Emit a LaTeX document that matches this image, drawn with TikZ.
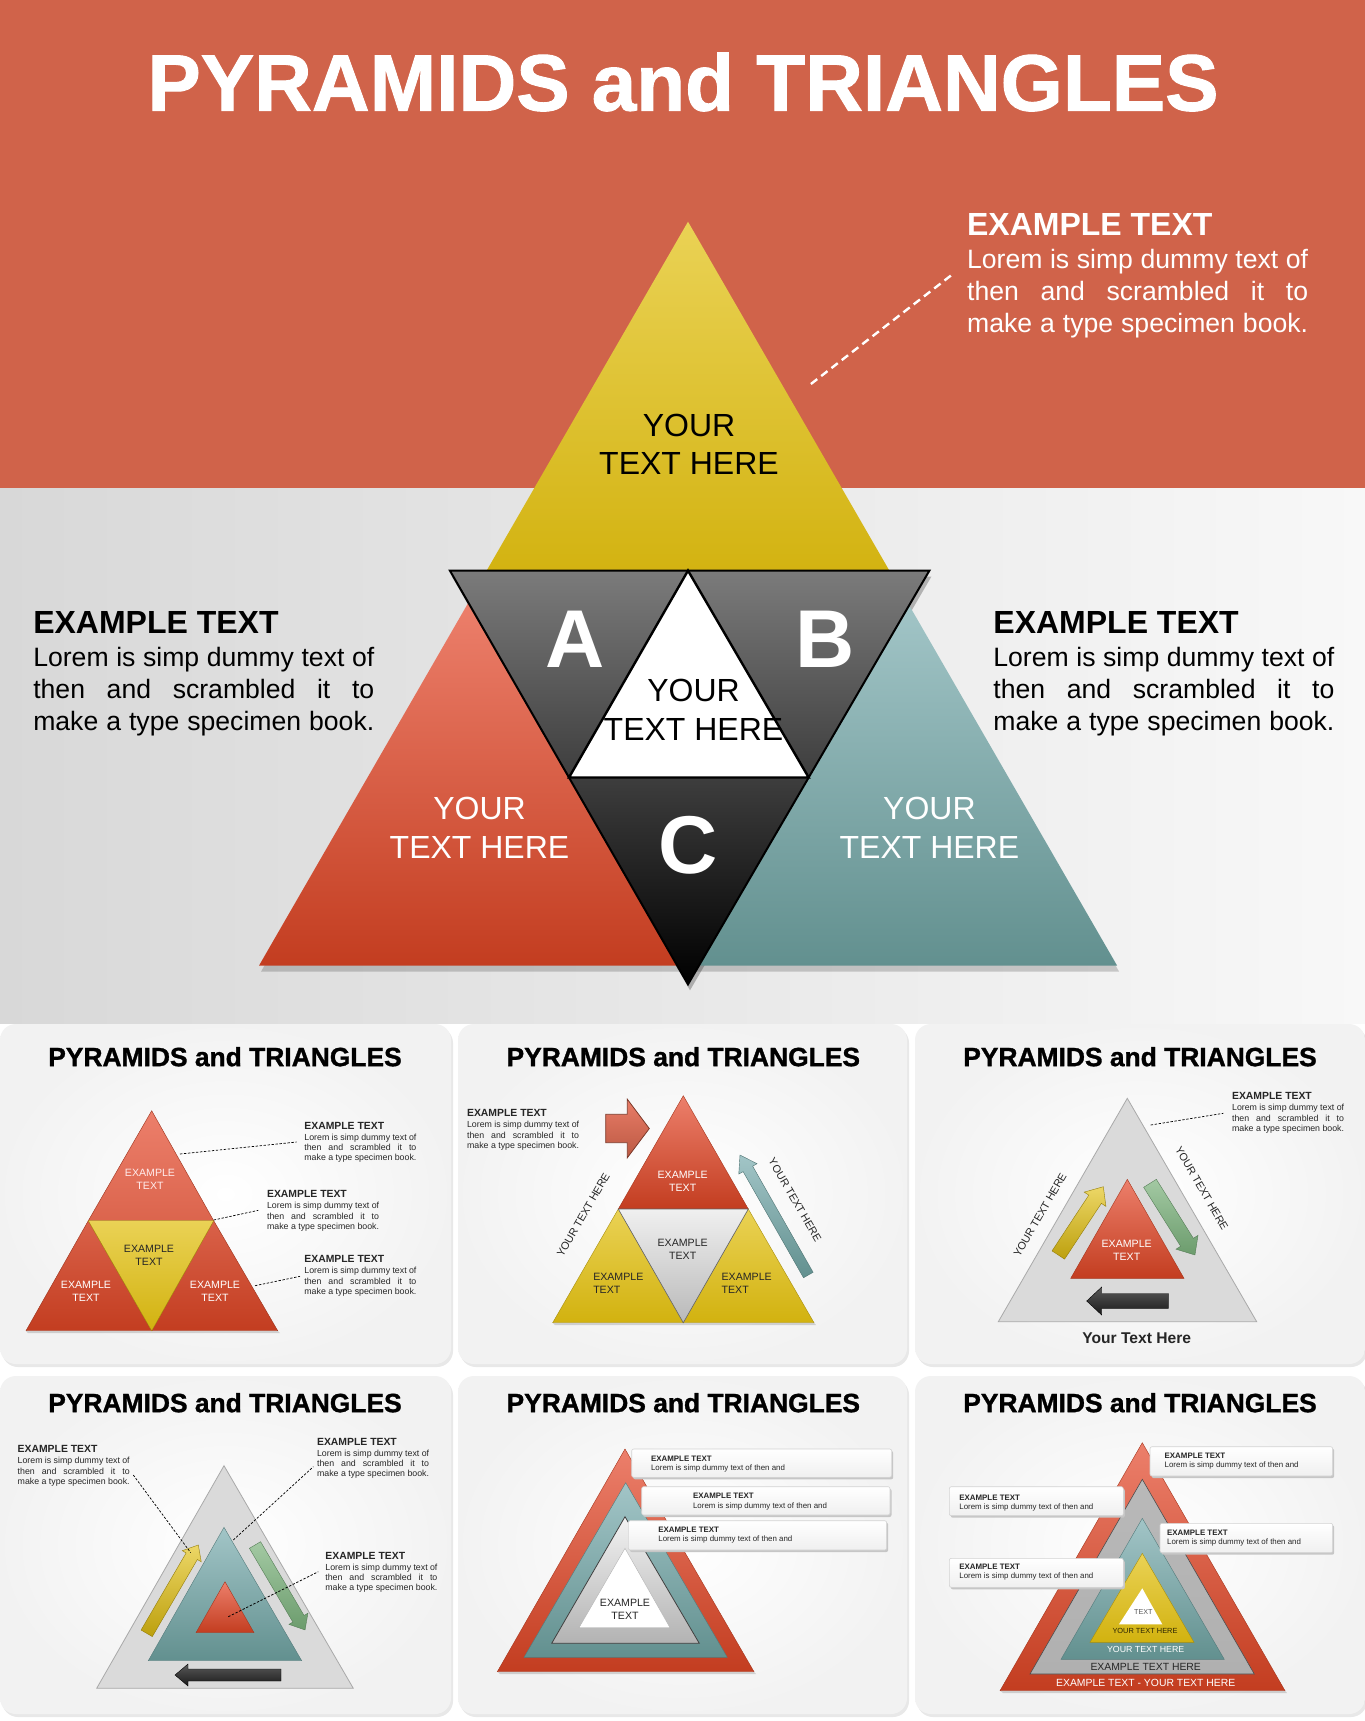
\documentclass[tikz,border=0pt]{standalone}
\usepackage{fontspec}
\setmainfont{Liberation Sans}
\newfontfamily\heavyfont[FakeBold=1.2]{Liberation Sans}
\usetikzlibrary{calc}
\definecolor{band}{HTML}{D0634A}
\definecolor{bgL}{HTML}{D8D8D8}
\definecolor{bgR}{HTML}{F8F8F8}
\definecolor{yelT}{HTML}{EAD255}
\definecolor{yelB}{HTML}{D2B20F}
\definecolor{redT}{HTML}{EC7F6B}
\definecolor{redB}{HTML}{C33D20}
\definecolor{tealT}{HTML}{A2C5C7}
\definecolor{tealB}{HTML}{62908F}
\definecolor{darkT}{HTML}{7B7B7B}
\definecolor{darkB}{HTML}{000000}
\definecolor{grayF}{HTML}{DADADA}
\definecolor{grayE}{HTML}{A9A9A9}
\definecolor{greenT}{HTML}{A3C9A3}
\definecolor{greenB}{HTML}{6C9C6D}
\definecolor{txtd}{HTML}{262626}
\tikzset{
  mlab/.style={align=center, inner sep=0, font=\fontsize{16}{19.2}\selectfont},
  abc/.style={inner sep=0, text=white, font=\fontsize{41}{41}\selectfont\bfseries},
  slab/.style={align=center, inner sep=0, font=\fontsize{5.3}{6.4}\selectfont},
  ptitle/.style={inner sep=0, text=black, font=\heavyfont\fontsize{13.2}{13.2}\selectfont\bfseries},
  rotlab/.style={inner sep=0, text=txtd, font=\fontsize{5.4}{5.4}\selectfont},
  leader/.style={dash pattern=on 1.2pt off 0.8pt, line width=0.35pt, black},
  redtri/.style={top color=redT, bottom color=redB, draw=redB!85!black, line width=0.2pt},
  yeltri/.style={top color=yelT, bottom color=yelB, draw=yelB!80!black, line width=0.2pt},
  tealtri/.style={top color=tealT, bottom color=tealB, draw=tealB!85!black, line width=0.2pt},
  graytri/.style={top color=grayF, bottom color=grayF, draw=grayE, line width=0.4pt},
  yelarrow/.style={top color=yelT!90!white, bottom color=yelB!90!black, draw=yelB!70!black, line width=0.2pt},
  greenarrow/.style={top color=greenT, bottom color=greenB, draw=greenB!80!black, line width=0.2pt},
  darkarrow/.style={top color=black!65, bottom color=black!90, draw=black, line width=0.2pt},
  tealarrow/.style={top color=tealT, bottom color=tealB, draw=tealB!80!black, line width=0.2pt},
  redarrow/.style={top color=redT!90!band, bottom color=band!90!black, draw=band!60!black, line width=0.4pt}
}
% text block (one node): x, heading baseline, name, colour, head size, body size, width, gap1, gap2 (pt)
\newcommand\infoblk[9]{%
  \node[anchor=base west, inner sep=0, text=#4] (#3) at (#1,#2) {\vtop{\baselineskip=#9\lineskiplimit=-100pt\lineskip=0pt
    \hbox{\fontsize{#5}{#5}\selectfont\bfseries EXAMPLE TEXT}\kern\dimexpr#8-#9\relax
    \hbox{\fontsize{#6}{#6}\selectfont\makebox[#7][s]{Lorem is simp dummy text of}}
    \hbox{\fontsize{#6}{#6}\selectfont\makebox[#7][s]{then and scrambled it to}}
    \hbox{\fontsize{#6}{#6}\selectfont\makebox[#7][s]{make a type specimen book.}}}};}
\newcommand\smallblk[3]{\infoblk{#1}{#2}{#3}{txtd}{5.2}{4.4}{56pt}{5.5pt}{5.2pt}}
% block arrow: x, y, length, angle, shaft half, head half, head length, style
\newcommand\barrow[8]{%
  \begin{scope}[shift={(#1,#2)}, rotate=#4]
    \shadedraw[#8] (0,-#5) -- (#3-#7,-#5) -- (#3-#7,-#6) -- (#3,0) -- (#3-#7,#6) -- (#3-#7,#5) -- (0,#5) -- cycle;
  \end{scope}}
\newcommand\panelbg[4]{%
  \fill[gray!18, rounded corners=8] (#1+2,#2+3) rectangle (#3+2,#4+3);
  \shade[rounded corners=8, inner color=white, outer color=gray!10] (#1,#2) rectangle (#3,#4);}
\newcommand\lbox[7]{%
  \fill[gray!45, rounded corners=1] (#1+1.5,#2+2) rectangle (#3+1.5,#4+2);
  \shadedraw[top color=white, bottom color=gray!12, draw=gray!35, line width=0.3pt, rounded corners=1] (#1,#2) rectangle (#3,#4);
  \node[anchor=base west, inner sep=0, text=txtd] (#7) at (#5,#6) {\vtop{\baselineskip=4.7pt\lineskiplimit=-100pt\lineskip=0pt
    \hbox{\fontsize{3.95}{3.95}\selectfont\bfseries EXAMPLE TEXT}
    \hbox{\fontsize{3.95}{3.95}\selectfont Lorem is simp dummy text of then and}}};}

\begin{document}
\begin{tikzpicture}[x=0.5pt,y=-0.5pt]
\useasboundingbox (0,0) rectangle (1365,1721);
\fill[white] (0,0) rectangle (1365,1721);
% ---------- top section ----------
\fill[band] (0,0) rectangle (1365,488);
\shade[left color=bgL, right color=bgR] (0,488) rectangle (1365,1023);
\node[inner sep=0, text=white, font=\heavyfont\fontsize{40}{40}\selectfont\bfseries] (title) at (683,82) {PYRAMIDS and TRIANGLES};

% shadows
\begin{scope}[shift={(2,6)}]
  \fill[black, opacity=0.18] (259,965.6) -- (468.5,602.4) -- (907.5,602.4) -- (1117.1,965.6) -- cycle;
  \fill[black, opacity=0.25] (449.9,570.6) -- (929.4,570.6) -- (688,984.3) -- cycle;
\end{scope}
% yellow
\shade[top color=yelT, bottom color=yelB] (688,221.7) -- (480.3,581.6) -- (895.7,581.6) -- cycle;
% red and teal
\shade[top color=redT, bottom color=redB] (259,965.6) -- (468.5,602.4) -- (488.3,602.4) -- (689.1,965.6) -- cycle;
\shade[top color=tealT, bottom color=tealB] (1117.1,965.6) -- (907.5,602.4) -- (887.7,602.4) -- (686.9,965.6) -- cycle;
% dark inverted triangle
\shadedraw[top color=darkT, bottom color=darkB, draw=black, line width=1pt] (449.9,570.6) -- (929.4,570.6) -- (688,984.3) -- cycle;
\filldraw[fill=white, draw=black, line width=1.2pt] (688,570.6) -- (569,777.5) -- (808.7,777.5) -- cycle;

\node[mlab, text=black] (ty) at (689,444.4) {YOUR\\TEXT HERE};
\node[mlab, text=black] (tw) at (693.5,710) {YOUR\\TEXT HERE};
\node[mlab, text=white] (tr) at (479.5,828) {YOUR\\TEXT HERE};
\node[mlab, text=white] (tt) at (929.4,828) {YOUR\\TEXT HERE};
\node[abc] (la) at (575,639.7) {A};
\node[abc] (lb) at (825.2,639.7) {B};
\node[abc] (lc) at (688,845) {C};

\coordinate (dA) at (810.9,384);
\coordinate (dB) at (952.5,274.3);
\draw[white, line width=1.2pt, dash pattern=on 4pt off 2.5pt] (dA) -- (dB);

\infoblk{966.7}{235.4}{ibtr}{white}{16}{13.3}{170.5pt}{16.5pt}{15.9pt}
\infoblk{32.9}{633.7}{ibl}{black}{16}{13.3}{170.5pt}{16.5pt}{15.9pt}
\infoblk{993}{633.7}{ibr}{black}{16}{13.3}{170.5pt}{16.5pt}{15.9pt}

% ---------- panels ----------
\panelbg{0}{1024}{451}{1364}
\panelbg{458}{1024}{907}{1364}
\panelbg{915}{1024}{1365}{1364}
\panelbg{0}{1376}{451}{1714}
\panelbg{458}{1376}{907}{1714}
\panelbg{915}{1376}{1365}{1714}

\node[ptitle] (p1t) at (225,1056.7) {PYRAMIDS and TRIANGLES};
\node[ptitle] (p2t) at (683.3,1056.7) {PYRAMIDS and TRIANGLES};
\node[ptitle] (p3t) at (1140,1056.7) {PYRAMIDS and TRIANGLES};
\node[ptitle] (p4t) at (225,1402.7) {PYRAMIDS and TRIANGLES};
\node[ptitle] (p5t) at (683.3,1402.7) {PYRAMIDS and TRIANGLES};
\node[ptitle] (p6t) at (1140,1402.7) {PYRAMIDS and TRIANGLES};

% ----- panel 1 -----
\fill[black, opacity=0.15] (28,1333) -- (280,1333) -- (278,1331) -- (26,1331) -- cycle;
\shadedraw[top color=redT, bottom color=redT!60!redB, draw=redB!80!black, line width=0.2pt] (151.7,1110.7) -- (88.3,1220.7) -- (213.7,1220.7) -- cycle;
\shadedraw[top color=redT!55!redB, bottom color=redB, draw=redB!80!black, line width=0.2pt] (88.3,1220.7) -- (26,1330.7) -- (151.7,1330.7) -- cycle;
\shadedraw[top color=redT!55!redB, bottom color=redB, draw=redB!80!black, line width=0.2pt] (213.7,1220.7) -- (151.7,1330.7) -- (277.7,1330.7) -- cycle;
\shadedraw[yeltri] (88.3,1220.7) -- (213.7,1220.7) -- (151.7,1330.7) -- cycle;
\node[slab, text=white!92!red] (p1a) at (150,1179.3) {EXAMPLE\\TEXT};
\node[slab, text=txtd] (p1b) at (149,1255.3) {EXAMPLE\\TEXT};
\node[slab, text=white] (p1c) at (86,1291.7) {EXAMPLE\\TEXT};
\node[slab, text=white] (p1d) at (215,1291.7) {EXAMPLE\\TEXT};
\smallblk{304}{1129}{p1k1}
\smallblk{266.7}{1197.7}{p1k2}
\smallblk{304}{1262.7}{p1k3}
\coordinate (p1s1) at (180,1154); \coordinate (p1e1) at (296.7,1142);
\coordinate (p1s2) at (213.7,1220); \coordinate (p1e2) at (258.3,1210.3);
\coordinate (p1s3) at (255,1285.7); \coordinate (p1e3) at (300,1276.3);
\draw[leader] (p1s1) -- (p1e1);
\draw[leader] (p1s2) -- (p1e2);
\draw[leader] (p1s3) -- (p1e3);

% ----- panel 2 -----
\fill[black, opacity=0.15] (555,1325) -- (816,1325) -- (814,1322.7) -- (552.7,1322.7) -- cycle;
\shadedraw[redtri] (683.3,1095.7) -- (618.3,1209) -- (748.3,1209) -- cycle;
\shadedraw[yeltri] (618.3,1209) -- (552.7,1322.7) -- (683.3,1322.7) -- cycle;
\shadedraw[yeltri] (748.3,1209) -- (683.3,1322.7) -- (814,1322.7) -- cycle;
\shadedraw[top color=gray!12, bottom color=gray!55, draw=black!60, line width=0.3pt] (618.3,1209) -- (748.3,1209) -- (683.3,1322.7) -- cycle;
\node[slab, text=white] (p2a) at (682.7,1181.7) {EXAMPLE\\TEXT};
\node[slab, text=txtd] (p2b) at (682.7,1249.3) {EXAMPLE\\TEXT};
\node[slab, text=txtd, align=left] (p2c) at (618.3,1283.3) {EXAMPLE\\TEXT};
\node[slab, text=txtd, align=left] (p2d) at (746.7,1283.3) {EXAMPLE\\TEXT};
\smallblk{466.7}{1116.7}{p2k1}
\barrow{605.7}{1128.5}{43.6}{0}{14.2}{29.3}{22}{redarrow}
\barrow{808.3}{1275}{138.1}{119.65}{5.5}{10.5}{16}{tealarrow}
\node[rotlab, rotate=60] (p2r1) at (583.3,1215) {YOUR TEXT HERE};
\node[rotlab, rotate=-60] (p2r2) at (795,1200) {YOUR TEXT HERE};

% ----- panel 3 -----
\shadedraw[graytri] (1127.3,1098.3) -- (998.3,1321.7) -- (1256.7,1321.7) -- cycle;
\shadedraw[redtri] (1127.3,1179.3) -- (1070.7,1278.3) -- (1184,1278.3) -- cycle;
\node[slab, text=white] (p3a) at (1126.7,1250) {EXAMPLE\\TEXT};
\barrow{1058.3}{1255}{81.8}{56.6}{7.5}{13}{15}{yelarrow}
\barrow{1150}{1183.3}{84.6}{-57.9}{7.5}{13}{15}{greenarrow}
\barrow{1168.3}{1301}{81.6}{180}{7.5}{14}{15}{darkarrow}
\node[inner sep=0, text=txtd, font=\fontsize{7.8}{7.8}\selectfont\bfseries] (p3y) at (1136.7,1338.3) {Your Text Here};
\node[rotlab, rotate=60] (p3r1) at (1040,1215) {YOUR TEXT HERE};
\node[rotlab, rotate=-60] (p3r2) at (1201.7,1188.3) {YOUR TEXT HERE};
\smallblk{1231.7}{1099.7}{p3k1}
\coordinate (p3s1) at (1150.7,1125); \coordinate (p3e1) at (1223.3,1113.3);
\draw[leader] (p3s1) -- (p3e1);

% ----- panel 4 -----
\shadedraw[graytri] (224,1465.7) -- (96.7,1688.3) -- (353.3,1688.3) -- cycle;
\shadedraw[tealtri] (224,1527.3) -- (148.3,1660.7) -- (301.7,1660.7) -- cycle;
\shadedraw[redtri] (225,1581.7) -- (196,1632.7) -- (254,1632.7) -- cycle;
\barrow{146.7}{1633.3}{102.3}{59.7}{6.5}{11}{13}{yelarrow}
\barrow{255}{1545}{98.6}{-59.5}{6.5}{11}{13}{greenarrow}
\barrow{281}{1675}{106}{180}{6}{11}{13}{darkarrow}
\smallblk{17.3}{1452.7}{p4k1}
\smallblk{316.7}{1445}{p4k2}
\smallblk{325}{1559}{p4k3}
\coordinate (p4s1) at (133.3,1475); \coordinate (p4e1) at (190.7,1552.7);
\coordinate (p4s2) at (233.3,1540); \coordinate (p4e2) at (313.3,1466.7);
\coordinate (p4s3) at (228.3,1616.7); \coordinate (p4e3) at (318.3,1571.7);
\draw[leader] (p4s1) -- (p4e1);
\draw[leader] (p4s2) -- (p4e2);
\draw[leader] (p4s3) -- (p4e3);

% ----- panel 5 -----
\fill[black, opacity=0.15] (500,1674) -- (756,1674) -- (754,1671.7) -- (497.3,1671.7) -- cycle;
\shadedraw[redtri] (625,1449) -- (497.3,1671.7) -- (754,1671.7) -- cycle;
\shadedraw[tealtri] (625.7,1482.7) -- (524,1657.3) -- (727.3,1657.3) -- cycle;
\shadedraw[top color=gray!10, bottom color=gray!60, draw=black!75, line width=0.4pt] (625,1516.7) -- (551.7,1643.3) -- (699.3,1643.3) -- cycle;
\filldraw[fill=white, draw=gray!60, line width=0.2pt] (625,1548.3) -- (579,1627.7) -- (670,1627.7) -- cycle;
\node[align=center, inner sep=0, text=txtd, font=\fontsize{5.3}{6.6}\selectfont] (p5a) at (625,1609.3) {EXAMPLE\\TEXT};
\lbox{631.7}{1449}{891.7}{1477.3}{650.7}{1461.1}{p5b1}
\lbox{641.7}{1486.7}{890}{1515}{692.7}{1498.8}{p5b2}
\lbox{628.3}{1520.7}{886.7}{1550}{658}{1532.5}{p5b3}

% ----- panel 6 -----
\fill[black, opacity=0.15] (1003,1693) -- (1287,1693) -- (1285,1690.7) -- (1000,1690.7) -- cycle;
\shadedraw[redtri] (1142.3,1442.7) -- (1000,1690.7) -- (1285,1690.7) -- cycle;
\shadedraw[top color=gray!55, bottom color=gray!62, draw=black!70, line width=0.3pt] (1142.3,1479.3) -- (1030,1674) -- (1254.3,1674) -- cycle;
\shadedraw[tealtri] (1142.3,1518.3) -- (1061,1659.3) -- (1224.3,1659.3) -- cycle;
\shadedraw[yeltri] (1142.3,1553.3) -- (1090,1642.3) -- (1194,1642.3) -- cycle;
\fill[white] (1142.3,1588.3) -- (1119,1624.3) -- (1162.3,1624.3) -- cycle;
\node[inner sep=0, text=gray!70!black, font=\fontsize{3.6}{3.6}\selectfont] (p6a) at (1143.3,1611.7) {TEXT};
\node[inner sep=0, text=black!80!yelB, font=\fontsize{3.7}{3.7}\selectfont] (p6b) at (1145,1630.7) {YOUR TEXT HERE};
\node[inner sep=0, text=white, font=\fontsize{4.4}{4.4}\selectfont] (p6c) at (1145.7,1649) {YOUR TEXT HERE};
\node[inner sep=0, text=txtd, font=\fontsize{5.2}{5.2}\selectfont] (p6d) at (1145.7,1667.3) {EXAMPLE TEXT HERE};
\node[inner sep=0, text=white, font=\fontsize{5.2}{5.2}\selectfont] (p6e) at (1145.7,1682.7) {EXAMPLE TEXT - YOUR TEXT HERE};
\lbox{1150}{1446.7}{1332.7}{1476}{1164.3}{1458.1}{p6b1}
\lbox{949.3}{1486.7}{1123.3}{1515.7}{959}{1500.5}{p6b2}
\lbox{1160}{1523.3}{1332.7}{1552.7}{1166.7}{1535.1}{p6b3}
\lbox{949.3}{1558.3}{1123.3}{1587.3}{959}{1569.5}{p6b4}
\end{tikzpicture}
\end{document}
